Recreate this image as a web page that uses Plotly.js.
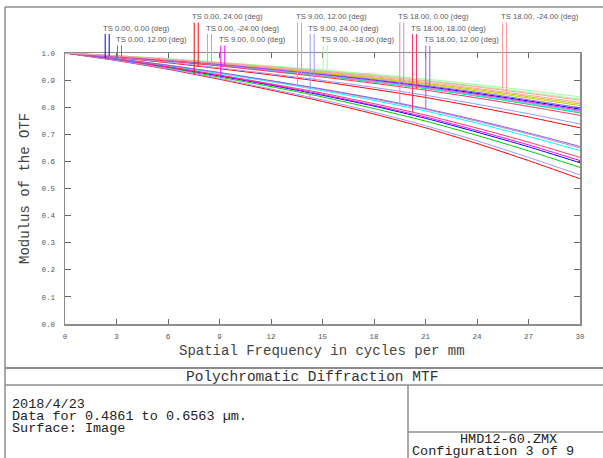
<!DOCTYPE html>
<html><head><meta charset="utf-8">
<script src="https://cdn.plot.ly/plotly-3.0.1.min.js"></script>
<style>html,body{margin:0;padding:0;background:#fff;overflow:hidden}</style>
</head><body><div id="chart" style="width:603px;height:458px"></div>
<script>
// ---- data ----
const frequencies = [0, 3, 6, 9, 12, 15, 18, 21, 24, 27, 30];
const xTickVals = [0, 3, 6, 9, 12, 15, 18, 21, 24, 27, 30];
const yTickVals = [0, 0.1, 0.2, 0.3, 0.4, 0.5, 0.6, 0.7, 0.8, 0.9, 1.0];
const fieldLabels = [
  "TS 0.00, 0.00 (deg)", "TS 0.00, 12.00 (deg)", "TS 0.00, 24.00 (deg)", "TS 0.00, -24.00 (deg)",
  "TS 9.00, 0.00 (deg)", "TS 9.00, 12.00 (deg)", "TS 9.00, 24.00 (deg)", "TS 9.00, -18.00 (deg)",
  "TS 18.00, 0.00 (deg)", "TS 18.00, 18.00 (deg)", "TS 18.00, 12.00 (deg)", "TS 18.00, -24.00 (deg)"
];
const field1T  = [1, .976, .947, .915, .881, .844, .804, .759, .708, .654, .595];
const field1S  = [1, .988, .973, .957, .939, .920, .900, .877, .851, .823, .793];
const field2T  = [1, .975, .945, .911, .876, .838, .795, .749, .696, .639, .578];
const field2S  = [1, .987, .971, .954, .935, .915, .893, .869, .841, .811, .779];
const field3T  = [1, .972, .940, .903, .863, .821, .775, .724, .666, .603, .536];
const field3S  = [1, .983, .964, .942, .919, .894, .866, .836, .801, .764, .724];
const field4T  = [1, .989, .976, .961, .945, .928, .909, .888, .865, .839, .812];
const field4S  = [1, .988, .975, .959, .943, .925, .906, .885, .860, .834, .806];
const field5T  = [1, .976, .948, .917, .883, .847, .807, .764, .714, .661, .603];
const field5S  = [1, .987, .972, .956, .938, .918, .897, .874, .847, .819, .788];
const field6T  = [1, .978, .953, .924, .894, .861, .825, .786, .741, .692, .640];
const field6S  = [1, .987, .972, .954, .935, .916, .894, .870, .842, .813, .781];
const field7T  = [1, .973, .942, .906, .867, .827, .782, .732, .676, .615, .550];
const field7S  = [1, .984, .966, .945, .923, .899, .873, .844, .811, .776, .738];
const field8T  = [1, .990, .979, .966, .952, .938, .921, .904, .883, .862, .838];
const field8S  = [1, .990, .978, .964, .950, .935, .918, .899, .878, .855, .830];
const field9T  = [1, .979, .955, .927, .897, .865, .830, .792, .748, .701, .650];
const field9S  = [1, .987, .972, .955, .937, .917, .896, .872, .845, .816, .785];
const field10T = [1, .977, .950, .919, .886, .852, .813, .771, .723, .671, .615];
const field10S = [1, .986, .970, .952, .932, .911, .888, .863, .834, .803, .770];
const field11T = [1, .979, .955, .928, .898, .867, .833, .795, .752, .705, .655];
const field11S = [1, .988, .974, .958, .940, .922, .902, .880, .855, .827, .798];
const field12T = [1, .990, .977, .964, .949, .933, .916, .897, .875, .851, .826];
const field12S = [1, .989, .976, .962, .946, .930, .912, .892, .869, .844, .818];

// ---- styling / layout ----
const fieldColors = ["#0000ff", "#00cc00", "#ff0000", "#c8c800", "#ff00ff", "#00ffff",
                     "#9999ff", "#99ff99", "#c090c8", "#ff3366", "#8a5cf0", "#ffa0a0"];
const fieldSeries = [
  [field1T, field1S], [field2T, field2S], [field3T, field3S], [field4T, field4S],
  [field5T, field5S], [field6T, field6S], [field7T, field7S], [field8T, field8S],
  [field9T, field9S], [field10T, field10S], [field11T, field11S], [field12T, field12S]
];
// legend label placement in page pixels: left edge, row index
const legendPlace = [[102.7,1],[115,2],[191.7,0],[205,1],[218.3,2],[295,0],
                     [307.7,1],[320.7,2],[397.3,0],[410,1],[423.3,2],[500,0]];
const rowTextY = [16.7, 28.2, 39.8];
const rowLineTop = [22.5, 34, 45.5];

const W = 603, H = 458, L = 65, R = 580, T = 53, B = 324;
const px = x => (x - L) / (R - L);
const py = y => (B - y) / (B - T);
const xmax = 30;

function interp(xs, ys, x) {
  for (let i = 0; i < xs.length - 1; i++) {
    if (x >= xs[i] && x <= xs[i + 1]) {
      const t = (x - xs[i]) / (xs[i + 1] - xs[i]);
      return ys[i] + t * (ys[i + 1] - ys[i]);
    }
  }
  return ys[ys.length - 1];
}

const traces = [];
fieldSeries.forEach((pair, i) => {
  pair.forEach((ys, j) => {
    traces.push({
      x: frequencies, y: ys, type: 'scatter', mode: 'lines',
      name: fieldLabels[i] + (j === 0 ? ' T' : ' S'),
      line: {color: fieldColors[i], width: 1, shape: 'spline', smoothing: 0.6},
      hoverinfo: 'skip', showlegend: false
    });
  });
});

const legendFont = {family: "'Liberation Sans Narrow', 'Arial Narrow', 'Liberation Sans', sans-serif", size: 7.7, color: '#5a5a5a'};
const monoFont = "'Liberation Mono', 'Courier New', monospace";

const annotations = [];
const shapes = [];
legendPlace.forEach((p, i) => {
  const [left, row] = p;
  annotations.push({
    xref: 'paper', yref: 'paper', x: px(left - 1.5), y: py(rowTextY[row]),
    xanchor: 'left', yanchor: 'middle', showarrow: false,
    text: fieldLabels[i], font: legendFont
  });
  [2.5, 6.5].forEach((dx, j) => {
    const lx = left + dx;
    const freq = (lx - L) / (R - L) * xmax;
    const v = interp(frequencies, fieldSeries[i][j], freq);
    shapes.push({
      type: 'line', xref: 'paper', yref: 'paper',
      x0: px(lx), x1: px(lx), y0: v, y1: py(rowLineTop[row]),
      line: {color: fieldColors[i], width: 1}
    });
  });
});

// frame lines
const frame = [
  [5, 7, 603, 7, 1.5], [5, 7, 5, 458, 1.5], [5, 368, 603, 368, 2], [5, 385, 603, 385, 1.5],
  [408, 385, 408, 458, 1.5], [408, 432, 603, 432, 1.5]
];
frame.forEach(f => shapes.push({
  type: 'line', xref: 'paper', yref: 'paper',
  x0: px(f[0]), y0: py(f[1]), x1: px(f[2]), y1: py(f[3]),
  line: {color: '#8c8c8c', width: f[4]}
}));

function addText(text, x, y, size, anchor, color, angle) {
  annotations.push({
    xref: 'paper', yref: 'paper', x: px(x), y: py(y), xanchor: anchor, yanchor: 'middle',
    showarrow: false, text: text, textangle: angle || 0, borderpad: 0,
    font: {family: monoFont, size: size, color: color || '#222'}
  });
}
addText('Spatial Frequency in cycles per mm', 322, 351, 14, 'center', '#444');
addText('Modulus of the OTF', 25, 189, 14, 'center', '#444', -90);
addText('Polychromatic Diffraction MTF', 312, 377, 14.5, 'center', '#333');
addText('2018/4/23', 11, 404, 13.5, 'left', '#222');
addText('Data for 0.4861 to 0.6563 µm.', 11, 416, 13.5, 'left', '#222');
addText('Surface: Image', 11, 428, 13.5, 'left', '#222');
addText('HMD12-60.ZMX', 508, 439, 13.5, 'center', '#222');
addText('Configuration 3 of 9', 411, 451, 13.5, 'left', '#222');

const axisCommon = {
  showline: true, mirror: 'ticks', linecolor: '#8c8c8c', linewidth: 1.5,
  ticks: 'inside', tickcolor: '#666', tickwidth: 1, ticklen: 5,
  showgrid: false, zeroline: false, fixedrange: true,
  tickfont: {family: monoFont, size: 7.5, color: '#555'}
};

const layout = {
  width: W, height: H,
  margin: {l: L, r: W - R, t: T, b: H - B, pad: 0},
  paper_bgcolor: '#fff', plot_bgcolor: '#fff',
  showlegend: false,
  xaxis: Object.assign({}, axisCommon, {range: [0, xmax], tickvals: xTickVals, ticklabelstandoff: 4}),
  yaxis: Object.assign({}, axisCommon, {range: [0, 1], tickvals: yTickVals, tickformat: '.1f', ticklen: 6, ticklabelstandoff: 7}),
  annotations: annotations,
  shapes: shapes
};

Plotly.newPlot('chart', traces, layout, {staticPlot: true, displayModeBar: false});
</script>
</body></html>
